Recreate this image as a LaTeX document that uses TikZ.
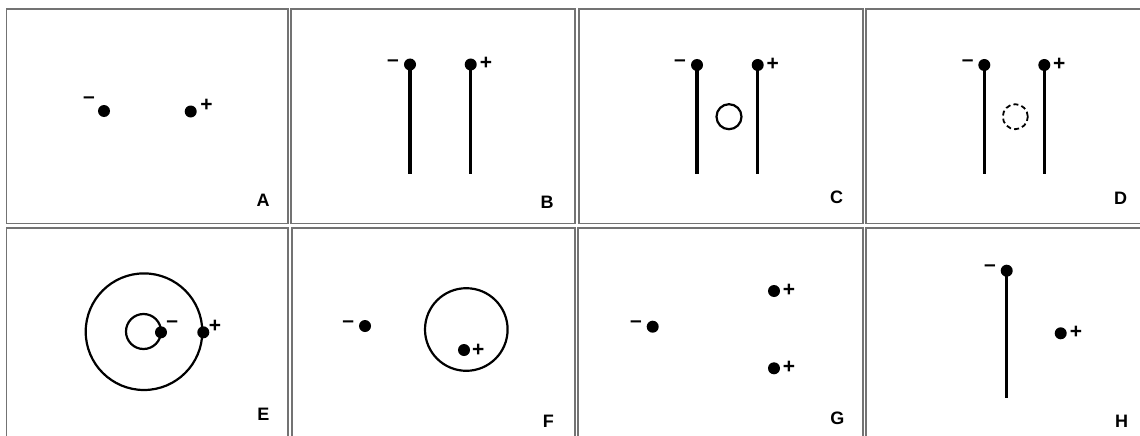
\documentclass[tikz,border=0pt]{standalone}
\usepackage{fontspec}
\setmainfont{Liberation Sans}
\begin{document}
\begin{tikzpicture}[x=1pt,y=-1pt,
  frame/.style={draw=black!55,line width=1.3pt},
  charge/.style={circle,fill=black,minimum size=12pt,inner sep=0pt},
  sign/.style={inner sep=0pt,font=\fontsize{21}{21}\selectfont\bfseries},
  tag/.style={inner sep=0pt,font=\fontsize{18}{18}\selectfont\bfseries},
  rod/.style={line width=3.2pt},
  ring/.style={line width=2.2pt}]
\useasboundingbox (0,0) rectangle (1140,436);
% frames
\draw[frame] (6.5,9) rectangle (288,223.5);
\draw[frame] (291,9) rectangle (575,223.5);
\draw[frame] (579,9) rectangle (863,223.5);
\draw[frame] (866,9) rectangle (1145,223.5);
\draw[frame] (6.5,228) rectangle (288,445);
\draw[frame] (292,228) rectangle (575,445);
\draw[frame] (578,228) rectangle (863,445);
\draw[frame] (866,228) rectangle (1145,445);
% A
\node[charge] (an) at (104,111) {};
\node[charge] (ap) at (190.7,111.5) {};
\node[sign] (ams) at (89,100) {–};
\node[sign] (aps) at (206.5,105) {+};
\node[tag] (al) at (263,200) {A};
% B
\node[charge] (bn) at (410,64.5) {};
\node[charge] (bp) at (470.7,64.5) {};
\coordinate (bne) at (410,173.5);
\coordinate (bpe) at (470.7,173.5);
\draw[rod] (bn.center) -- (bne);
\draw[rod] (bp.center) -- (bpe);
\node[sign] (bms) at (393,63) {–};
\node[sign] (bps) at (486,63.5) {+};
\node[tag] (bl) at (547,202) {B};
% C
\node[charge] (cn) at (697,65) {};
\node[charge] (cp) at (757.7,65) {};
\coordinate (cne) at (697,173.5);
\coordinate (cpe) at (757.7,173.5);
\draw[rod] (cn.center) -- (cne);
\draw[rod] (cp.center) -- (cpe);
\node[circle,draw,ring,minimum size=25pt,inner sep=0pt] (cc) at (729,116.7) {};
\node[sign] (cms) at (680,63) {–};
\node[sign] (cps) at (772.7,64) {+};
\node[tag] (cl) at (836.7,197) {C};
% D
\node[charge] (dn) at (984.3,65) {};
\node[charge] (dp) at (1044.3,65) {};
\coordinate (dne) at (984.3,173.5);
\coordinate (dpe) at (1044.3,173.5);
\draw[rod] (dn.center) -- (dne);
\draw[rod] (dp.center) -- (dpe);
\node[circle,draw,line width=1.8pt,dash pattern=on 5pt off 3.2pt,minimum size=25pt,inner sep=0pt] (dc) at (1015.3,116.7) {};
\node[sign] (dms) at (967.7,63) {–};
\node[sign] (dps) at (1059.3,64) {+};
\node[tag] (dl) at (1120.7,198) {D};
% E
\node[circle,draw,ring,minimum size=116.6pt,inner sep=0pt] (eo) at (144,331.7) {};
\node[circle,draw,ring,minimum size=35pt,inner sep=0pt] (ei) at (143.5,331.5) {};
\node[charge] (en) at (161,332.3) {};
\node[charge] (ep) at (203.3,332.3) {};
\node[sign] (ems) at (172.3,324) {–};
\node[sign] (eps) at (215,326) {+};
\node[tag] (el) at (263.3,414.3) {E};
% F
\node[charge] (fn) at (365,326) {};
\node[sign] (fms) at (348.3,324.3) {–};
\node[circle,draw,ring,minimum size=82.6pt,inner sep=0pt] (fc) at (466.3,329.5) {};
\node[charge] (fp) at (464,350) {};
\node[sign] (fps) at (478.3,350) {+};
\node[tag] (fl) at (548.3,421.7) {F};
% G
\node[charge] (gn) at (652.7,326.7) {};
\node[sign] (gms) at (636,324.3) {–};
\node[charge] (gp1) at (774,291) {};
\node[charge] (gp2) at (774,368.3) {};
\node[sign] (gps1) at (789,290) {+};
\node[sign] (gps2) at (789,367.3) {+};
\node[tag] (gl) at (837.3,418.3) {G};
% H
\node[charge] (hn) at (1006.7,270.7) {};
\coordinate (hne) at (1006.7,398.3);
\draw[rod] (hn.center) -- (hne);
\node[sign] (hms) at (990,267.7) {–};
\node[charge] (hp) at (1060.7,333.3) {};
\node[sign] (hps) at (1076,332.7) {+};
\node[tag] (hl) at (1121.7,421) {H};
\end{tikzpicture}
\end{document}
